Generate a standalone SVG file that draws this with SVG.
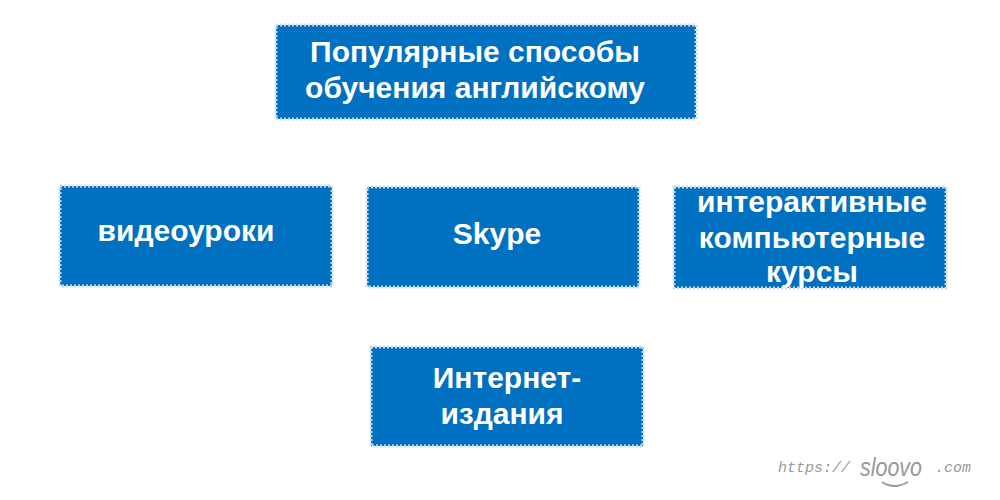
<svg xmlns="http://www.w3.org/2000/svg" width="1000" height="500" viewBox="0 0 1000 500">
<style>
.b{fill:#0070c0;stroke:#c5dcf0;stroke-width:3;stroke-dasharray:2 2}
.t{font-family:"Liberation Sans",Arial,sans-serif;font-weight:bold;font-size:30px;fill:#fff;text-anchor:middle}
.w{font-family:"Liberation Mono",monospace;font-size:15px;fill:#999;font-style:italic}
</style>
<rect width="1000" height="500" fill="#fff"/>
<g id="root"><rect class="b" x="276" y="25" width="420" height="94"/>
<text class="t" x="475" y="62">Популярные способы</text><text class="t" x="475" y="98">обучения английскому</text></g>
<g id="video"><rect class="b" x="60" y="186" width="272" height="100"/><text class="t" x="186" y="241">видеоуроки</text></g>
<g id="skype"><rect class="b" x="367" y="187" width="272" height="100"/><text class="t" x="497" y="244">Skype</text></g>
<g id="courses"><rect class="b" x="674" y="187" width="272" height="101"/>
<text class="t" x="812" y="212">интерактивные</text><text class="t" x="812" y="248">компьютерные</text><text class="t" x="812" y="282">курсы</text></g>
<g id="internet"><rect class="b" x="371" y="347" width="272" height="99"/>
<text class="t" x="507" y="388">Интернет-</text><text class="t" x="502" y="424">издания</text></g>
<g id="connectors"></g>
<g id="logo"><text class="w" x="778" y="472">https://</text>
<text x="860" y="476" font-family="Liberation Sans,sans-serif" font-style="italic" font-size="26" fill="#999" textLength="62" lengthAdjust="spacingAndGlyphs">sloovo</text>
<text class="w" x="935" y="472">.com</text>
<path d="M882 482 q12 8 26 0" fill="none" stroke="#999" stroke-width="2"/></g>
</svg>
